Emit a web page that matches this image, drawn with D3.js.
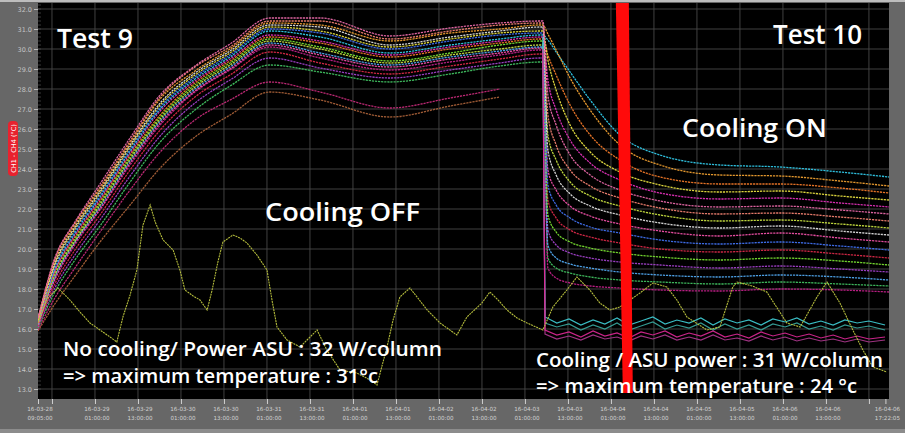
<!DOCTYPE html>
<html>
<head>
<meta charset="utf-8">
<script src="https://cdn.jsdelivr.net/npm/d3@7"></script>
<style>
  html, body { margin: 0; padding: 0; background: #686868; }
  svg { display: block; }
</style>
</head>
<body>
<svg id="chart" width="905" height="433"></svg>
<script>
// ---------------- DATA ----------------
// elapsed hours since start of Test 9 (shared sample times of the channel curves)
const hours = [0, 4.7, 10.3, 17.3, 25.7, 34.1, 43.8, 53.6, 64.7, 78.7, 98.2, 115.0, 128.9, 140.1,
               140.9, 142.3, 144.6, 148.5, 154.1, 162.4, 173.6, 190.3, 207.1, 223.8, 237.5];

// ASU column temperatures (°C)
const ch01 = [16.55, 19.55, 21.35, 23.25, 25.55, 27.7, 29.15, 30.25, 31.55, 31.55, 30.65, 31.05, 31.3, 31.4,
              31.4, 27.7, 26.2, 24.7, 23.7, 22.95, 22.4, 22.1, 22.15, 21.95, 21.75];
const ch02 = [16.5, 19.5, 21.3, 23.1, 25.4, 27.6, 29.1, 30.1, 31.4, 31.4, 30.5, 30.9, 31.2, 31.3,
              31.3, 26.7, 25.2, 23.95, 23.15, 22.55, 22.05, 21.75, 21.8, 21.6, 21.4];
const ch03 = [16.5, 19.4, 21.2, 23.0, 25.3, 27.5, 28.9, 30.0, 31.3, 31.2, 30.4, 30.8, 31.0, 31.2,
              31.2, 30.75, 29.95, 28.55, 26.95, 25.2, 24.2, 23.7, 23.65, 23.4, 23.15];
const ch04 = [16.5, 19.3, 21.1, 22.9, 25.2, 27.3, 28.8, 29.9, 31.2, 31.1, 30.2, 30.6, 30.9, 31.1,
              31.1, 24.95, 23.7, 22.75, 22.15, 21.7, 21.3, 21.05, 21.15, 20.9, 20.7];
const ch05 = [16.4, 19.2, 21.0, 22.8, 25.1, 27.2, 28.7, 29.8, 31.1, 30.9, 30.1, 30.5, 30.8, 30.9,
              30.9, 29.45, 27.95, 26.2, 24.85, 23.85, 23.2, 22.85, 22.9, 22.65, 22.45];
const ch06 = [16.4, 19.1, 20.9, 22.7, 25.0, 27.1, 28.6, 29.7, 31.0, 30.8, 30.0, 30.4, 30.7, 30.8,
              30.8, 23.2, 22.2, 21.55, 21.1, 20.8, 20.45, 20.25, 20.35, 20.15, 19.95];
const ch07 = [16.4, 19.0, 20.8, 22.6, 24.9, 27.0, 28.5, 29.6, 30.9, 30.6, 29.8, 30.2, 30.5, 30.7,
              30.7, 30.45, 29.85, 28.85, 27.45, 25.7, 24.7, 24.2, 24.1, 23.85, 23.6];
const ch08 = [16.35, 18.9, 20.7, 22.5, 24.8, 26.9, 28.4, 29.5, 30.7, 30.4, 29.7, 30.1, 30.4, 30.6,
              30.6, 28.45, 26.95, 25.45, 24.3, 23.45, 22.8, 22.5, 22.55, 22.3, 22.1];
const ch09 = [16.3, 18.85, 20.6, 22.4, 24.7, 26.7, 28.3, 29.4, 30.6, 30.3, 29.6, 30.0, 30.3, 30.5,
              30.5, 29.7, 28.7, 27.2, 25.7, 24.45, 23.6, 23.25, 23.25, 23.05, 22.8];
const ch10 = [16.3, 18.75, 20.5, 22.3, 24.6, 26.6, 28.2, 29.3, 30.5, 30.1, 29.4, 29.8, 30.2, 30.4,
              30.4, 21.7, 20.85, 20.35, 20.05, 19.8, 19.6, 19.45, 19.55, 19.4, 19.2];
const ch11 = [16.3, 18.7, 20.4, 22.2, 24.5, 26.5, 28.1, 29.2, 30.4, 30.0, 29.3, 29.7, 30.0, 30.2,
              30.2, 25.7, 24.45, 23.35, 22.65, 22.15, 21.7, 21.4, 21.45, 21.25, 21.05];
const ch12 = [16.25, 18.6, 20.35, 22.1, 24.4, 26.4, 28.0, 29.1, 30.3, 29.8, 29.2, 29.6, 29.9, 30.1,
              30.1, 20.2, 19.55, 19.25, 19.05, 18.85, 18.7, 18.6, 18.7, 18.6, 18.45];
const ch13 = [16.2, 18.5, 20.3, 22.0, 24.3, 26.3, 27.9, 29.0, 30.2, 29.7, 29.1, 29.5, 29.8, 30.05,
              30.05, 23.95, 22.95, 22.15, 21.65, 21.25, 20.9, 20.65, 20.8, 20.55, 20.35];
const ch14 = [16.2, 18.45, 20.2, 21.95, 24.2, 26.2, 27.85, 28.95, 30.1, 29.55, 28.95, 29.35, 29.7, 29.95,
              29.95, 19.05, 18.55, 18.3, 18.15, 18.05, 17.95, 17.9, 18.0, 17.95, 17.85];
const ch15 = [16.15, 18.25, 19.95, 21.7, 23.95, 25.95, 27.6, 28.7, 29.85, 29.3, 28.75, 29.15, 29.5, 29.75,
              29.75, 22.45, 21.55, 20.95, 20.6, 20.3, 20.0, 19.85, 19.95, 19.75, 19.55];
const ch16 = [16.1, 18.05, 19.7, 21.45, 23.65, 25.65, 27.3, 28.45, 29.55, 29.05, 28.55, 28.95, 29.3, 29.55,
              29.55, 20.95, 20.2, 19.8, 19.55, 19.35, 19.2, 19.05, 19.15, 19.0, 18.85];
const ch17 = [16.05, 17.85, 19.45, 21.15, 23.35, 25.35, 26.95, 28.15, 29.2, 28.85, 28.35, 28.75, 29.15, 29.35,
              29.35, 19.55, 19.05, 18.8, 18.6, 18.45, 18.35, 18.25, 18.35, 18.25, 18.15];
const ch18 = [15.95, 17.55, 19.05, 20.85, 22.95, 24.85, 26.45, 27.45, 28.35, 27.85, 27.05, 27.55, 28.0,
              null, null, null, null, null, null, null, null, null, null, null, null];
const ch19 = [15.9, 17.25, 18.65, 20.35, 22.2, 24.05, 25.6, 26.7, 27.85, 27.45, 26.6, 27.15, 27.6,
              null, null, null, null, null, null, null, null, null, null, null, null];

const channels = [ch19, ch18, ch17, ch16, ch15, ch14, ch13, ch12, ch11, ch10, ch09, ch08, ch07, ch06, ch05, ch04, ch03, ch02, ch01];
const channelColors = ["#a86038", "#c42a78", "#40c060", "#a040c8", "#d82848", "#c02088", "#f050a8", "#50a8f0",
                       "#c8e040", "#78e030", "#f07828", "#e030b8", "#30c8e8", "#4070f0", "#e8e040", "#dcdcdc",
                       "#f0a030", "#f08070", "#e868a8"];

// inlet (supply) sensors: they sit in the column cluster, then drop when cooling starts
const inletHours = [140.9, 141.5, 144.8, 148.2, 151.5, 154.9, 158.2, 161.6, 164.9, 168.3, 171.6, 175.0, 178.3, 181.7, 185.0,
                    188.4, 191.7, 195.1, 198.4, 201.8, 205.1, 208.5, 211.8, 215.2, 218.5, 221.9, 225.2, 228.6, 231.9, 236.4];
const inletA = [30.6, 16.6, 16.3, 16.5, 16.2, 16.45, 16.25, 16.55, 16.2, 16.4, 16.6, 16.25, 16.45, 16.3, 16.55, 16.2,
                16.5, 16.3, 16.45, 16.2, 16.5, 16.35, 16.55, 16.25, 16.4, 16.2, 16.45, 16.3, 16.4, 16.2];
const inletB = [30.3, 16.3, 16.1, 16.25, 15.95, 16.2, 16.0, 16.3, 15.95, 16.15, 16.35, 16.0, 16.2, 16.05, 16.3, 15.95,
                16.25, 16.0, 16.2, 15.95, 16.25, 16.1, 16.3, 16.0, 16.15, 15.95, 16.2, 16.05, 16.15, 15.95];
const inletC = [30.0, 15.95, 15.7, 15.85, 15.6, 15.9, 15.65, 15.8, 15.55, 15.85, 15.7, 15.9, 15.6, 15.8, 15.65, 15.9,
                15.6, 15.75, 15.55, 15.85, 15.65, 15.8, 15.6, 15.75, 15.55, 15.7, 15.5, 15.65, 15.5, 15.6];
const inletD = [29.8, 15.75, 15.5, 15.65, 15.45, 15.7, 15.5, 15.6, 15.4, 15.65, 15.5, 15.7, 15.45, 15.6, 15.45, 15.7,
                15.45, 15.55, 15.4, 15.65, 15.45, 15.6, 15.4, 15.55, 15.4, 15.5, 15.35, 15.5, 15.35, 15.45];
const inlets = [inletB, inletA, inletD, inletC];
const inletColors = ["#38a8a0", "#40d0d8", "#b03890", "#e02898"];

// ambient (room) temperature
const ambientHours = [0, 2.8, 5.6, 8.9, 11.7, 14.5, 17.3, 20.1, 22.0, 23.7, 25.7, 27.6, 29.3, 31.3, 32.7, 34.9, 37.7,
  39.6, 41.0, 43.3, 45.2, 47.2, 48.6, 50.2, 51.6, 54.4, 56.4, 58.3, 61.1, 63.9, 65.3, 66.7, 69.5, 73.1, 75.1,
  77.9, 80.6, 84.3, 89.0, 92.7, 94.6, 97.4, 99.1, 101.0, 103.8, 106.0, 108.6, 112.2, 116.9, 119.7, 123.9, 126.1,
  128.4, 130.9, 133.7, 136.5, 140.9, 143.7, 147.6, 150.4, 154.0, 156.8, 159.6, 162.4, 168.0, 171.6, 175.5, 178.3,
  181.1, 186.7, 190.3, 193.9, 195.1, 199.3, 203.4, 209.0, 212.7, 217.4, 220.2, 223.8, 227.4, 230.2, 233.0, 236.9];
const ambientTemp = [16.35, 17.55, 18.05, 17.45, 16.85, 16.3, 15.95, 15.6, 15.35, 16.6, 17.7, 18.95, 21.2, 22.2, 21.35,
  20.45, 19.95, 18.95, 17.95, 17.65, 17.45, 16.95, 17.95, 19.35, 20.35, 20.7, 20.55, 20.3, 19.7, 18.95, 17.45, 16.1,
  15.45, 15.1, 15.45, 15.95, 14.95, 13.95, 13.8, 13.45, 13.2, 15.1, 16.45, 17.6, 18.05, 17.55, 16.95, 16.3, 15.7,
  16.6, 17.3, 17.85, 17.45, 16.95, 16.55, 16.3, 15.95, 17.1, 17.95, 18.6, 17.95, 17.3, 16.95, 17.1, 17.8, 18.3, 18.1,
  17.45, 16.6, 15.95, 16.1, 18.1, 18.35, 18.15, 17.85, 16.3, 16.1, 17.6, 18.35, 17.3, 15.95, 14.95, 14.1, 13.85];

// axes
const yTicks = [13, 14, 15, 16, 17, 18, 19, 20, 21, 22, 23, 24, 25, 26, 27, 28, 29, 30, 31, 32];
const xTickHours = [0, 3.9, 15.9, 27.9, 39.9, 51.9, 63.9, 75.9, 87.9, 99.9, 111.9, 123.9, 135.9, 147.9, 159.9,
                    171.9, 183.9, 195.9, 207.9, 219.9, 231.9, 236.5];
const xTickDates = ["16-03-28", "", "16-03-29", "16-03-29", "16-03-30", "16-03-30", "16-03-31", "16-03-31", "16-04-01",
                    "16-04-01", "16-04-02", "16-04-02", "16-04-03", "16-04-03", "16-04-04", "16-04-04", "16-04-05",
                    "16-04-05", "16-04-06", "16-04-06", "", "16-04-06"];
const xTickTimes = ["09:05:00", "", "01:00:00", "13:00:00", "01:00:00", "13:00:00", "01:00:00", "13:00:00", "01:00:00",
                    "13:00:00", "01:00:00", "13:00:00", "01:00:00", "13:00:00", "01:00:00", "13:00:00", "01:00:00",
                    "13:00:00", "01:00:00", "13:00:00", "", "17:22:05"];
const yAxisTitle = "CH1 - CH4 (°C)";
const coolingOnHour = 163.5;

// ---------------- DRAW ----------------
const svg = d3.select("#chart");
const W = 905, H = 433;
const m = { left: 38, right: 889, top: 3, bottom: 399 };

const x = d3.scaleLinear().domain([0, 237.5]).range([m.left, m.right]);
const y = d3.scaleLinear().domain([12.5, 32.3]).range([m.bottom, m.top]);

// frame
svg.append("rect").attr("width", W).attr("height", H).attr("fill", "#676767");
svg.append("rect").attr("x", 0).attr("y", 0).attr("width", W).attr("height", 2).attr("fill", "#bdbdbd");
svg.append("rect").attr("x", 0).attr("y", 429).attr("width", W).attr("height", 4).attr("fill", "#8c8c8c");
svg.append("rect").attr("x", m.left).attr("y", m.top).attr("width", m.right - m.left)
   .attr("height", m.bottom - m.top).attr("fill", "#000");

svg.append("defs").append("clipPath").attr("id", "plotclip").append("rect")
   .attr("x", m.left).attr("y", m.top).attr("width", m.right - m.left).attr("height", m.bottom - m.top);

// grid
const grid = svg.append("g").attr("stroke", "#474747").attr("stroke-width", 0.9);
grid.selectAll("line.h").data(yTicks).join("line").attr("class", "h")
    .attr("x1", m.left).attr("x2", m.right).attr("y1", d => y(d)).attr("y2", d => y(d));
grid.selectAll("line.v").data(xTickHours.slice(1, -1)).join("line").attr("class", "v")
    .attr("x1", d => x(d)).attr("x2", d => x(d)).attr("y1", m.top).attr("y2", m.bottom);

// minor ticks inside left edge
const minor = d3.range(130, 323, 2).map(v => v / 10);
svg.append("g").selectAll("line").data(minor).join("line")
   .attr("x1", m.left).attr("x2", m.left + 3).attr("y1", d => y(d)).attr("y2", d => y(d))
   .attr("stroke", "#5a5a5a").attr("stroke-width", 0.6);

// y axis
const yAxis = svg.append("g").attr("transform", `translate(${m.left},0)`)
   .call(d3.axisLeft(y).tickValues(yTicks).tickFormat(d3.format(".1f")).tickSize(4).tickPadding(2));
yAxis.select(".domain").remove();
yAxis.selectAll("line").attr("stroke", "#bdbdbd");
yAxis.selectAll("text").attr("fill", "#c4c4c4").attr("font-size", 6.5).attr("font-family", "DejaVu Sans");

// y title pill
svg.append("rect").attr("x", 8).attr("y", 121).attr("width", 10).attr("height", 55).attr("rx", 4)
   .attr("fill", "#e8222e");
svg.append("text").attr("transform", "translate(15.5,148.5) rotate(-90)").attr("text-anchor", "middle")
   .attr("fill", "#fff").attr("font-size", 6.5).attr("font-family", "DejaVu Sans").text(yAxisTitle);

// x axis
const xAxis = svg.append("g").attr("transform", `translate(0,${m.bottom})`)
   .call(d3.axisBottom(x).tickValues(xTickHours).tickSize(5).tickFormat(""));
xAxis.select(".domain").remove();
xAxis.selectAll("line").attr("stroke", "#d0d0d0");
const xl = svg.append("g").attr("fill", "#d2d2d2").attr("font-size", 5.6).attr("font-family", "DejaVu Sans")
   .attr("text-anchor", "middle");
xTickHours.forEach((h, i) => {
  if (!xTickDates[i]) return;
  const t = xl.append("text").attr("x", x(h) + 2).attr("y", 411);
  t.append("tspan").attr("x", x(h) + 2).attr("dy", 0).text(xTickDates[i]);
  t.append("tspan").attr("x", x(h) + 2).attr("dy", 8.5).text(xTickTimes[i]);
});

// series
const plot = svg.append("g").attr("clip-path", "url(#plotclip)");
const line = d3.line().defined(d => d[1] != null).x(d => x(d[0])).y(d => y(d[1])).curve(d3.curveMonotoneX);
const lineLin = d3.line().x(d => x(d[0])).y(d => y(d[1]));

channels.forEach((c, i) => {
  plot.append("path").datum(d3.zip(hours, c)).attr("d", line)
      .attr("fill", "none").attr("stroke", channelColors[i]).attr("stroke-width", 1.3)
      .attr("stroke-dasharray", "2.2 0.9").attr("opacity", 0.95);
});
inlets.forEach((c, i) => {
  plot.append("path").datum(d3.zip(inletHours, c)).attr("d", lineLin)
      .attr("fill", "none").attr("stroke", inletColors[i]).attr("stroke-width", 1.2).attr("opacity", 0.9);
});
plot.append("path").datum(d3.zip(ambientHours, ambientTemp)).attr("d", lineLin)
    .attr("fill", "none").attr("stroke", "#b4bc3c").attr("stroke-width", 1.1)
    .attr("stroke-dasharray", "2 0.8");

// red marker (cooling switched on), slightly slanted as in the slide
const xr = x(coolingOnHour);
svg.append("path")
   .attr("d", `M${xr - 8},${m.top} L${xr + 5},${m.top} L${xr + 9},${m.bottom - 6} L${xr - 1},${m.bottom - 6} Z`)
   .attr("fill", "#ff0a0a");

// annotations
const ann = svg.append("g").attr("fill", "#ffffff").attr("font-family", "Open Sans").attr("font-weight", 600);
function label(txt, tx, ty, size, len) {
  ann.append("text").attr("x", tx).attr("y", ty).attr("font-size", size)
     .attr("textLength", len).attr("lengthAdjust", "spacingAndGlyphs").text(txt);
}
label("Test 9", 57, 48, 27, 76);
label("Test 10", 773, 44, 27, 89);
label("Cooling OFF", 265, 221, 25, 155);
label("Cooling ON", 682, 137, 26, 145);
label("No cooling/ Power ASU : 32 W/column", 63, 356, 19, 379);
label("=> maximum temperature : 31°c", 63, 383, 19, 315);
label("Cooling / ASU power : 31 W/column", 536, 367, 19, 347);
label("=> maximum temperature : 24 °c", 536, 393, 19, 321);
</script>
</body>
</html>
